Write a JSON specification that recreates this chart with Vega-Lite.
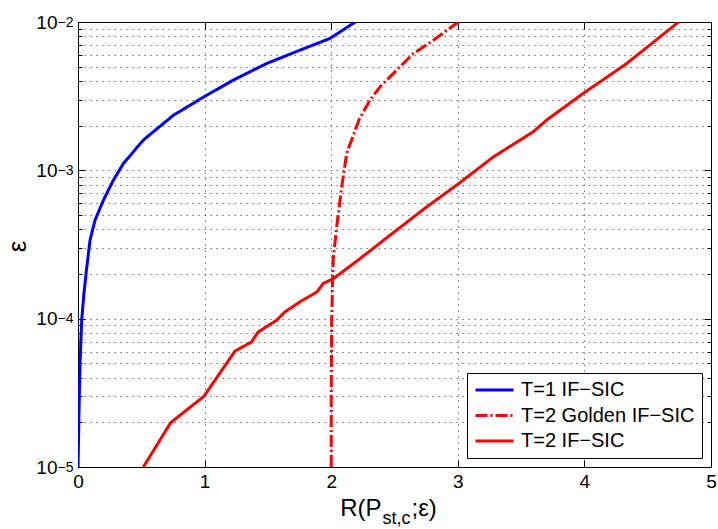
{
  "$schema": "https://vega.github.io/schema/vega-lite/v6.json",
  "width": 633,
  "height": 445,
  "autosize": {"type": "none"},
  "padding": {"left": 78, "top": 22, "right": 7, "bottom": 62},
  "background": "white",
  "config": {
    "view": {"stroke": "black", "strokeWidth": 1},
    "font": "Liberation Sans",
    "axis": {"domainColor": "black", "tickColor": "black", "labelColor": "black", "titleColor": "black", "titleFontWeight": "normal", "labelFont": "Liberation Sans", "titleFont": "Liberation Sans"},
    "legend": {
      "orient": "none", "legendX": 389, "legendY": 351,
      "strokeColor": "black", "fillColor": "white", "padding": 7, "cornerRadius": 0,
      "symbolType": "stroke", "symbolSize": 1444, "symbolStrokeWidth": 3, "clipHeight": 20,
      "labelFontSize": 20, "labelFont": "Liberation Sans", "labelColor": "black", "labelOffset": 6, "labelLimit": 400,
      "rowPadding": 5.5
    }
  },
  "data": {"values": [
    {"series": "T=1 IF−SIC", "R": 0.0, "eps": 1e-5},
    {"series": "T=1 IF−SIC", "R": 0.004, "eps": 1.5e-5},
    {"series": "T=1 IF−SIC", "R": 0.007, "eps": 2.2e-5},
    {"series": "T=1 IF−SIC", "R": 0.011, "eps": 3.2e-5},
    {"series": "T=1 IF−SIC", "R": 0.017, "eps": 5.2e-5},
    {"series": "T=1 IF−SIC", "R": 0.023, "eps": 7.2e-5},
    {"series": "T=1 IF−SIC", "R": 0.03, "eps": 1e-4},
    {"series": "T=1 IF−SIC", "R": 0.047, "eps": 1.48e-4},
    {"series": "T=1 IF−SIC", "R": 0.066, "eps": 2.1e-4},
    {"series": "T=1 IF−SIC", "R": 0.095, "eps": 3.38e-4},
    {"series": "T=1 IF−SIC", "R": 0.134, "eps": 4.6e-4},
    {"series": "T=1 IF−SIC", "R": 0.2, "eps": 6.28e-4},
    {"series": "T=1 IF−SIC", "R": 0.279, "eps": 8.57e-4},
    {"series": "T=1 IF−SIC", "R": 0.358, "eps": 1.11e-3},
    {"series": "T=1 IF−SIC", "R": 0.516, "eps": 1.6e-3},
    {"series": "T=1 IF−SIC", "R": 0.753, "eps": 2.35e-3},
    {"series": "T=1 IF−SIC", "R": 0.995, "eps": 3.13e-3},
    {"series": "T=1 IF−SIC", "R": 1.227, "eps": 4.06e-3},
    {"series": "T=1 IF−SIC", "R": 1.49, "eps": 5.25e-3},
    {"series": "T=1 IF−SIC", "R": 1.754, "eps": 6.46e-3},
    {"series": "T=1 IF−SIC", "R": 1.99, "eps": 7.75e-3},
    {"series": "T=1 IF−SIC", "R": 2.19, "eps": 1e-2},
    {"series": "T=2 Golden IF−SIC", "R": 2.0, "eps": 1e-5},
    {"series": "T=2 Golden IF−SIC", "R": 2.0, "eps": 3e-5},
    {"series": "T=2 Golden IF−SIC", "R": 2.004, "eps": 1e-4},
    {"series": "T=2 Golden IF−SIC", "R": 2.015, "eps": 2.48e-4},
    {"series": "T=2 Golden IF−SIC", "R": 2.043, "eps": 4.15e-4},
    {"series": "T=2 Golden IF−SIC", "R": 2.083, "eps": 7.73e-4},
    {"series": "T=2 Golden IF−SIC", "R": 2.122, "eps": 1.3e-3},
    {"series": "T=2 Golden IF−SIC", "R": 2.22, "eps": 2.2e-3},
    {"series": "T=2 Golden IF−SIC", "R": 2.306, "eps": 2.97e-3},
    {"series": "T=2 Golden IF−SIC", "R": 2.385, "eps": 3.65e-3},
    {"series": "T=2 Golden IF−SIC", "R": 2.49, "eps": 4.49e-3},
    {"series": "T=2 Golden IF−SIC", "R": 2.648, "eps": 6.12e-3},
    {"series": "T=2 Golden IF−SIC", "R": 2.806, "eps": 7.53e-3},
    {"series": "T=2 Golden IF−SIC", "R": 3.004, "eps": 1e-2},
    {"series": "T=2 IF−SIC", "R": 0.516, "eps": 1e-5},
    {"series": "T=2 IF−SIC", "R": 0.732, "eps": 1.99e-5},
    {"series": "T=2 IF−SIC", "R": 0.995, "eps": 3.0e-5},
    {"series": "T=2 IF−SIC", "R": 1.24, "eps": 6.05e-5},
    {"series": "T=2 IF−SIC", "R": 1.37, "eps": 6.96e-5},
    {"series": "T=2 IF−SIC", "R": 1.423, "eps": 8.13e-5},
    {"series": "T=2 IF−SIC", "R": 1.568, "eps": 9.75e-5},
    {"series": "T=2 IF−SIC", "R": 1.634, "eps": 1.11e-4},
    {"series": "T=2 IF−SIC", "R": 1.754, "eps": 1.3e-4},
    {"series": "T=2 IF−SIC", "R": 1.886, "eps": 1.51e-4},
    {"series": "T=2 IF−SIC", "R": 1.938, "eps": 1.73e-4},
    {"series": "T=2 IF−SIC", "R": 2.017, "eps": 1.86e-4},
    {"series": "T=2 IF−SIC", "R": 2.175, "eps": 2.35e-4},
    {"series": "T=2 IF−SIC", "R": 2.228, "eps": 2.54e-4},
    {"series": "T=2 IF−SIC", "R": 2.464, "eps": 3.65e-4},
    {"series": "T=2 IF−SIC", "R": 2.753, "eps": 5.66e-4},
    {"series": "T=2 IF−SIC", "R": 2.99, "eps": 7.94e-4},
    {"series": "T=2 IF−SIC", "R": 3.28, "eps": 1.23e-3},
    {"series": "T=2 IF−SIC", "R": 3.596, "eps": 1.82e-3},
    {"series": "T=2 IF−SIC", "R": 3.701, "eps": 2.18e-3},
    {"series": "T=2 IF−SIC", "R": 3.99, "eps": 3.3e-3},
    {"series": "T=2 IF−SIC", "R": 4.334, "eps": 5.25e-3},
    {"series": "T=2 IF−SIC", "R": 4.744, "eps": 1e-2}
  ]},
  "resolve": {"axis": {"x": "independent", "y": "independent"}},
  "layer": [
    {
      "mark": {"type": "line", "strokeWidth": 3, "clip": true},
      "encoding": {
        "x": {"field": "R", "type": "quantitative", "scale": {"domain": [0, 5], "nice": false, "zero": false},
          "axis": {"orient": "bottom", "values": [0, 1, 2, 3, 4, 5], "grid": true, "gridDash": [1.5, 4.5], "gridColor": "#000", "gridOpacity": 0.55,
            "tickSize": -7, "labelFontSize": 19, "labelPadding": 12, "labelFlush": false, "labelOverlap": false,
            "title": "R(P", "titleFontSize": 24, "titleX": 303, "titleY": 48, "titleAlign": "right", "titleBaseline": "alphabetic"}},
        "y": {"field": "eps", "type": "quantitative", "scale": {"type": "log", "domain": [1e-5, 1e-2], "nice": false},
          "axis": {"orient": "left",
            "values": [1e-5, 2e-5, 3e-5, 4e-5, 5e-5, 6e-5, 7e-5, 8e-5, 9e-5, 1e-4, 2e-4, 3e-4, 4e-4, 5e-4, 6e-4, 7e-4, 8e-4, 9e-4, 1e-3, 2e-3, 3e-3, 4e-3, 5e-3, 6e-3, 7e-3, 8e-3, 9e-3, 1e-2],
            "grid": true, "gridDash": [1.5, 4.5], "gridColor": "#000", "gridOpacity": 0.55,
            "tickSize": {"condition": {"test": "abs(log(datum.value)/LN10 - round(log(datum.value)/LN10)) < 0.000001", "value": -7}, "value": -4},
            "labelExpr": "abs(log(datum.value)/LN10 - round(log(datum.value)/LN10)) < 0.000001 ? '10' : ''",
            "labelFontSize": 19, "labelPadding": 28, "labelOverlap": false, "labelFlush": false,
            "title": "ε", "titleFontSize": 26, "titleX": -61, "titleY": 224, "titleAlign": "center", "titleBaseline": "middle", "titleAngle": -90}},
        "color": {"field": "series", "type": "nominal",
          "scale": {"domain": ["T=1 IF−SIC", "T=2 Golden IF−SIC", "T=2 IF−SIC"], "range": ["#0000ff", "#ff0000", "#ff0000"]},
          "legend": {"title": null}},
        "strokeDash": {"field": "series", "type": "nominal",
          "scale": {"domain": ["T=1 IF−SIC", "T=2 Golden IF−SIC", "T=2 IF−SIC"], "range": [[1, 0], [12, 3, 2, 3], [1, 0]]},
          "legend": {"title": null}},
        "order": {"field": "eps", "type": "quantitative"}
      }
    },
    {
      "mark": {"type": "line", "opacity": 0},
      "encoding": {
        "x": {"field": "R", "type": "quantitative",
          "axis": {"orient": "bottom", "labels": false, "ticks": false, "domain": false, "grid": false,
            "title": "st,c", "titleFontSize": 18, "titleX": 304, "titleY": 56, "titleAlign": "left", "titleBaseline": "alphabetic"}},
        "y": {"field": "eps", "type": "quantitative",
          "axis": {"orient": "left", "values": [1e-5, 1e-4, 1e-3, 1e-2], "ticks": false, "domain": false, "grid": false,
            "labelExpr": "'−' + (-round(log(datum.value)/LN10))", "labelFontSize": 14, "labelPadding": 5, "labelDy": -9,
            "labelOverlap": false, "labelFlush": false, "title": null}},
        "order": {"field": "eps", "type": "quantitative"}
      }
    },
    {
      "mark": {"type": "line", "opacity": 0},
      "encoding": {
        "x": {"field": "R", "type": "quantitative",
          "axis": {"orient": "top", "values": [1, 2, 3, 4], "labels": false, "tickSize": -7, "domain": false, "grid": false, "title": null}},
        "y": {"field": "eps", "type": "quantitative",
          "axis": {"orient": "right",
            "values": [1e-5, 2e-5, 3e-5, 4e-5, 5e-5, 6e-5, 7e-5, 8e-5, 9e-5, 1e-4, 2e-4, 3e-4, 4e-4, 5e-4, 6e-4, 7e-4, 8e-4, 9e-4, 1e-3, 2e-3, 3e-3, 4e-3, 5e-3, 6e-3, 7e-3, 8e-3, 9e-3, 1e-2],
            "labels": false, "domain": false, "grid": false, "title": null,
            "tickSize": {"condition": {"test": "abs(log(datum.value)/LN10 - round(log(datum.value)/LN10)) < 0.000001", "value": -7}, "value": -4}}},
        "order": {"field": "eps", "type": "quantitative"}
      }
    },
    {
      "mark": {"type": "line", "opacity": 0},
      "encoding": {
        "x": {"field": "R", "type": "quantitative",
          "axis": {"orient": "bottom", "labels": false, "ticks": false, "domain": false, "grid": false,
            "title": ";ε)", "titleFontSize": 24, "titleX": 333, "titleY": 48, "titleAlign": "left", "titleBaseline": "alphabetic"}},
        "y": {"field": "eps", "type": "quantitative", "axis": null},
        "order": {"field": "eps", "type": "quantitative"}
      }
    }
  ]
}
